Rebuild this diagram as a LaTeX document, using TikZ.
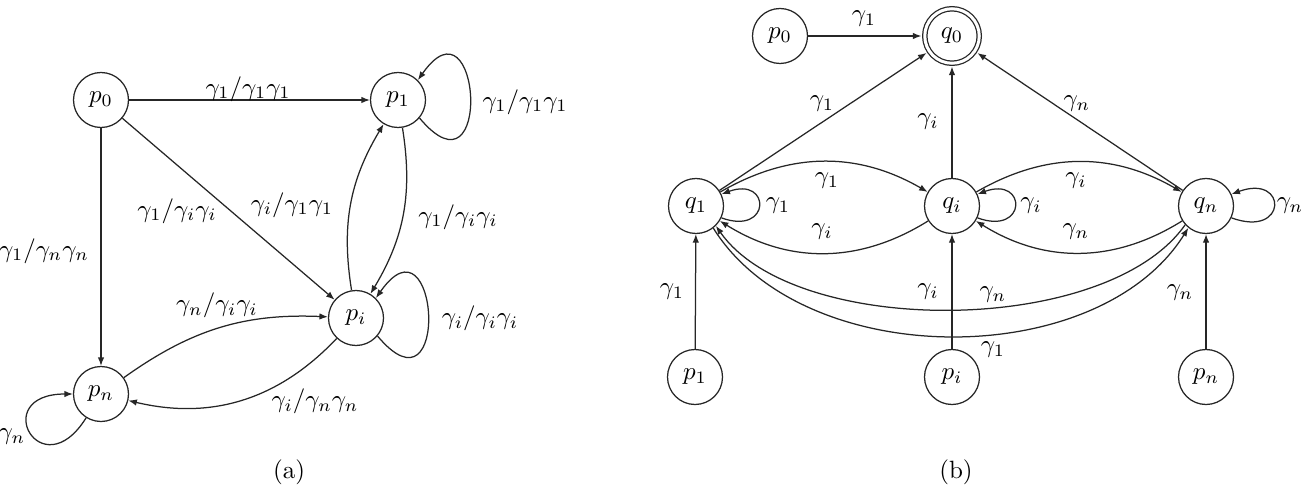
\documentclass[tikz,border=0pt]{standalone}
\usetikzlibrary{arrows.meta}
\begin{document}
\begin{tikzpicture}[x=0.4pt,y=0.4pt,
  st/.style={circle,draw=black!85,line width=0.5pt,minimum size=22pt,inner sep=0pt},
  acc/.style={st,double,double distance=1.2pt,minimum size=21.8pt,outer sep=1.35pt},
  tr/.style={draw=black!85,line width=0.5pt,-{Latex[length=3.4pt,width=2.6pt]}},
  lbl/.style={inner sep=0pt}
]
\useasboundingbox (0,0) rectangle (1303,-492);
% ---------- (a) ----------
\node[st] (a0) at (101,-100) {$p_0$};
\node[st] (a1) at (398,-100) {$p_1$};
\node[st] (ai) at (356,-318) {$p_i$};
\node[st] (an) at (101,-394) {$p_n$};
\draw[tr] (a0) -- (a1);
\draw[tr] (a0) -- (ai);
\draw[tr] (a0) -- (an);
\draw[tr] (a1) to[bend left=20] (ai);
\draw[tr] (ai) to[bend left=20] (a1);
\draw[tr] (an) to[bend left=19] (ai);
\draw[tr] (ai) to[bend left=30] (an);
\draw[tr] (a1.-40) .. controls +(-50:115) and +(55:110) .. (a1.45);
\draw[tr] (ai.-40) .. controls +(-50:115) and +(55:110) .. (ai.45);
\draw[tr] (an.238) .. controls +(238:85) and +(180:85) .. (an.180);
\node[lbl] (la1) at (248,-89) {$\gamma_1/\gamma_1\gamma_1$};
\node[lbl] (la2) at (525,-102) {$\gamma_1/\gamma_1\gamma_1$};
\node[lbl] (la3) at (458,-217) {$\gamma_1/\gamma_i\gamma_i$};
\node[lbl] (la4) at (292,-205) {$\gamma_i/\gamma_1\gamma_1$};
\node[lbl] (la5) at (177,-211) {$\gamma_1/\gamma_i\gamma_i$};
\node[lbl] (la6) at (44,-251) {$\gamma_1/\gamma_n\gamma_n$};
\node[lbl] (la7) at (217,-305) {$\gamma_n/\gamma_i\gamma_i$};
\node[lbl] (la8) at (315,-401) {$\gamma_i/\gamma_n\gamma_n$};
\node[lbl] (la9) at (480,-318) {$\gamma_i/\gamma_i\gamma_i$};
\node[lbl] (la10) at (12,-437) {$\gamma_n$};
\node[lbl] (capa) at (289,-472) {(a)};
% ---------- (b) ----------
\node[st] (b0) at (780,-36) {$p_0$};
\node[acc] (q0) at (952,-36) {$q_0$};
\node[st] (q1) at (696,-206) {$q_1$};
\node[st] (qi) at (952,-206) {$q_i$};
\node[st] (qn) at (1206,-206) {$q_n$};
\node[st] (b1) at (695,-377) {$p_1$};
\node[st] (bi) at (952,-377) {$p_i$};
\node[st] (bn) at (1206,-377) {$p_n$};
\draw[tr] (b0) -- (q0);
\draw[tr] (q1) -- (q0);
\draw[tr] (qi) -- (q0);
\draw[tr] (qn) -- (q0);
\draw[tr] (q1) to[bend left=30] (qi);
\draw[tr] (qi) to[bend left=32] (q1);
\draw[tr] (qi) to[bend left=30] (qn);
\draw[tr] (qn) to[bend left=32] (qi);
\draw[tr] (q1.-25) .. controls +(-20:53) and +(20:53) .. (q1.25);
\draw[tr] (qi.-25) .. controls +(-20:53) and +(20:53) .. (qi.25);
\draw[tr] (qn.-25) .. controls +(-20:60) and +(20:60) .. (qn.25);
\draw[tr] (b1) -- (q1);
\draw[tr] (bi) -- (qi);
\draw[tr] (bn) -- (qn);
\draw[tr] (qn.222) .. controls +(235:137) and +(-55:137) .. (q1.-45);
\draw[tr] (q1.-52) .. controls +(-58:170) and +(238:170) .. (qn.231);
\node[lbl] (lb1) at (864,-19) {$\gamma_1$};
\node[lbl] (lb2) at (822,-104) {$\gamma_1$};
\node[lbl] (lb3) at (928,-122) {$\gamma_i$};
\node[lbl] (lb4) at (1077,-104) {$\gamma_n$};
\node[lbl] (lb5) at (827,-181) {$\gamma_1$};
\node[lbl] (lb6) at (822,-232) {$\gamma_i$};
\node[lbl] (lb7) at (1076,-181) {$\gamma_i$};
\node[lbl] (lb8) at (1076,-232) {$\gamma_n$};
\node[lbl] (lb9) at (778,-206) {$\gamma_1$};
\node[lbl] (lb10) at (1031,-206) {$\gamma_i$};
\node[lbl] (lb11) at (1290,-206) {$\gamma_n$};
\node[lbl] (lb12) at (672,-292) {$\gamma_1$};
\node[lbl] (lb13) at (928,-292) {$\gamma_i$};
\node[lbl] (lb14) at (1180,-293) {$\gamma_n$};
\node[lbl] (lb15) at (993,-295) {$\gamma_n$};
\node[lbl] (lb16) at (993,-350) {$\gamma_1$};
\node[lbl] (capb) at (956,-472) {(b)};
\end{tikzpicture}
\end{document}
